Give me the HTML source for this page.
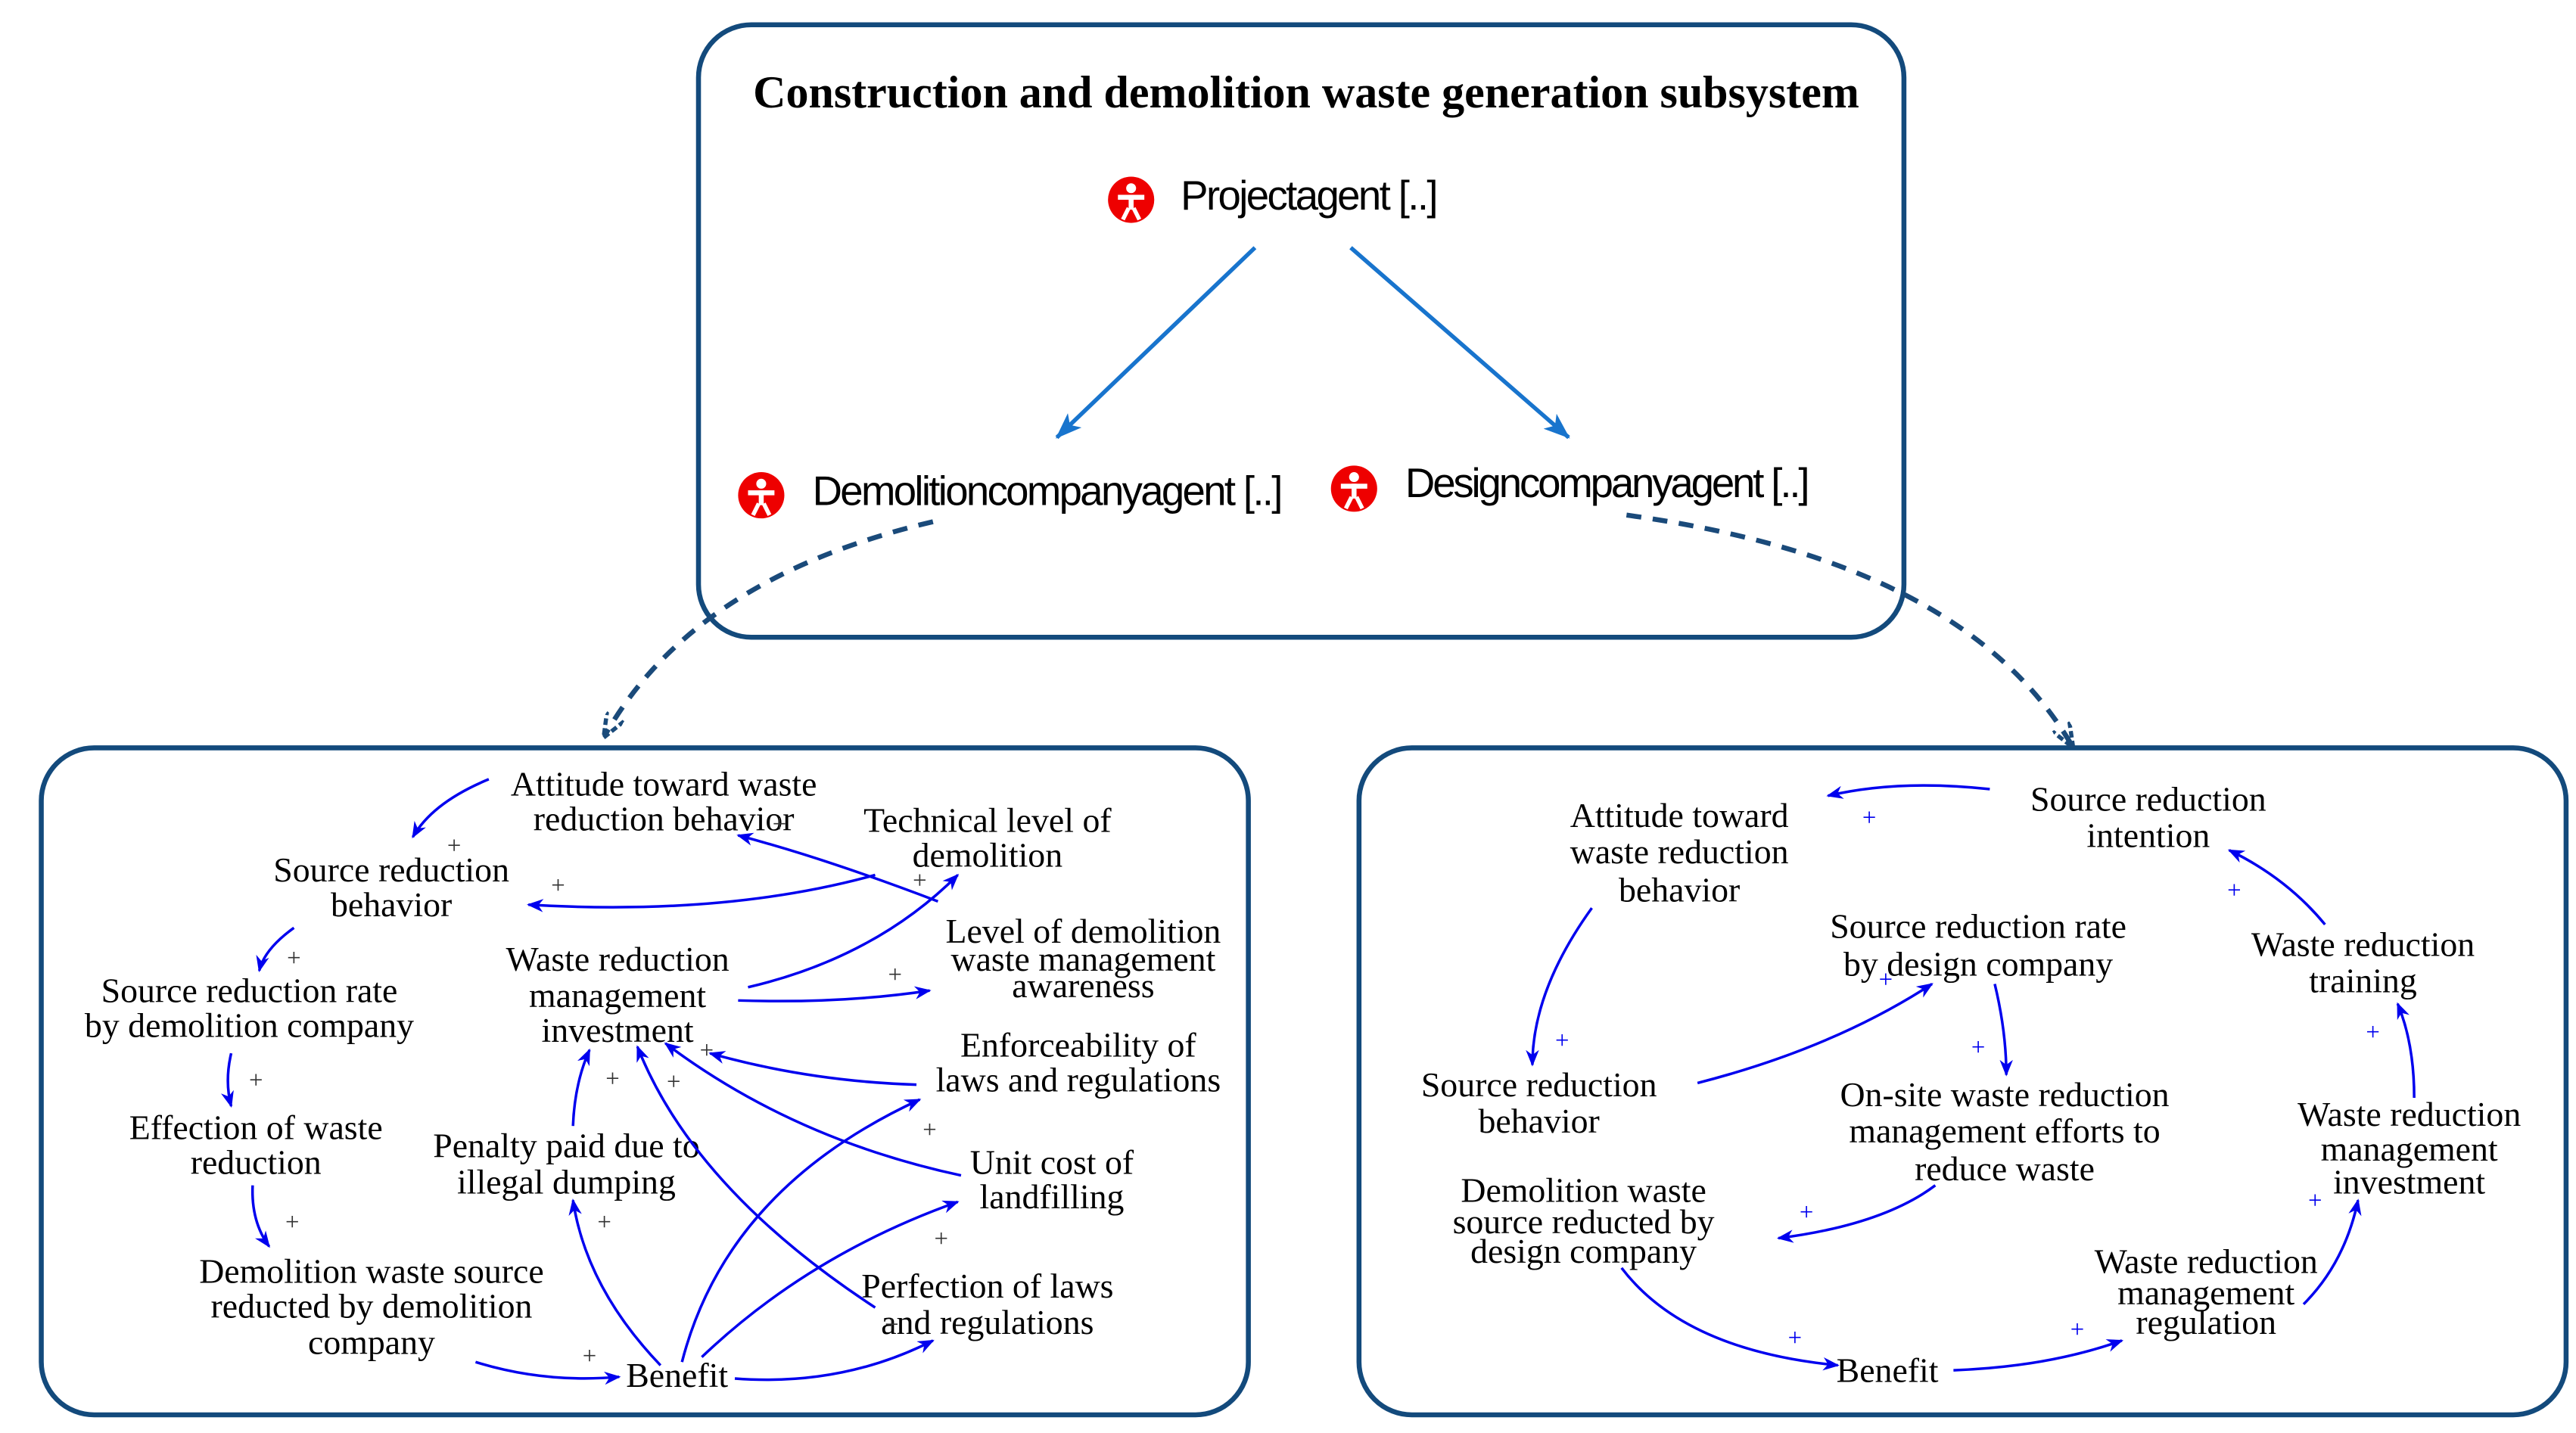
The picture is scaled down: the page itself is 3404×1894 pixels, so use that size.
<!DOCTYPE html>
<html><head><meta charset="utf-8"><style>
html,body{margin:0;padding:0;background:#fff;}
svg{display:block;}
.t{font-family:"Liberation Serif",serif;font-size:21px;fill:#000;text-anchor:middle;}
.a{fill:none;stroke:#0000ee;stroke-width:1.6;marker-end:url(#ah);}
.s{font-family:"Liberation Serif",serif;font-size:15px;fill:#333;text-anchor:middle;}
.sb{font-family:"Liberation Serif",serif;font-size:15px;fill:#0000ee;text-anchor:middle;}
.ag{font-family:"Liberation Sans Narrow","Liberation Sans",sans-serif;font-size:25px;fill:#000;}
</style></head><body>
<svg width="3404" height="1894" viewBox="0 0 1560 868" preserveAspectRatio="none" xmlns="http://www.w3.org/2000/svg">
<defs>
<marker id="ah" markerWidth="10" markerHeight="8" refX="9" refY="4" orient="auto" markerUnits="userSpaceOnUse"><path d="M0,0 L10,4 L0,8 L3,4 Z" fill="#0000ee"/></marker>
<marker id="ab" markerWidth="16" markerHeight="12" refX="15" refY="6" orient="auto" markerUnits="userSpaceOnUse"><path d="M0,0 L16,6 L0,12 L4,6 Z" fill="#1874cd"/></marker>
<marker id="ad" markerWidth="16" markerHeight="12" refX="14" refY="6" orient="auto" markerUnits="userSpaceOnUse"><path d="M0,0 L15,6 L0,12" fill="none" stroke="#1a4a7a" stroke-width="2.5" stroke-dasharray="4 2"/></marker>
<g id="icon"><circle cx="0" cy="0" r="14" fill="#e00"/><circle cx="0" cy="-7" r="3" fill="#fff"/><rect x="-8" y="-3" width="16" height="3" fill="#fff"/><rect x="-1.5" y="-3" width="3" height="9" fill="#fff"/><path d="M-1.5,5 L-5,12 M1.5,5 L5,12" stroke="#fff" stroke-width="2.5"/></g>
</defs>
<g fill="none" stroke="#134a7c" stroke-width="3">
<rect x="423" y="15" width="730" height="371" rx="32"/>
<rect x="25" y="453" width="731" height="404" rx="32"/>
<rect x="823" y="453" width="731" height="404" rx="32"/>
</g>
<text x="791" y="65" style="font-family:'Liberation Serif',serif;font-size:27.5px;font-weight:bold;text-anchor:middle">Construction and demolition waste generation subsystem</text>
<use href="#icon" x="685" y="121"/>
<text class="ag" x="715" y="127" textLength="156">Projectagent [..]</text>
<use href="#icon" x="461" y="300"/>
<text class="ag" x="492" y="306" textLength="285">Demolitioncompanyagent [..]</text>
<use href="#icon" x="820" y="296"/>
<text class="ag" x="851" y="301" textLength="245">Designcompanyagent [..]</text>
<path d="M760,150 L640,265" stroke="#1874cd" stroke-width="2.5" marker-end="url(#ab)"/>
<path d="M818,150 L950,265" stroke="#1874cd" stroke-width="2.5" marker-end="url(#ab)"/>
<g fill="none" stroke="#1a4a7a" stroke-width="3" stroke-dasharray="9 7">
<path d="M565,316 Q420,350 366,446" marker-end="url(#ad)"/>
<path d="M985,312 Q1190,340 1255,452" marker-end="url(#ad)"/>
</g>
<text class="t" x="402" y="482">Attitude toward waste</text><text class="t" x="402" y="503">reduction behavior</text>
<text class="t" x="598" y="504">Technical level of</text><text class="t" x="598" y="525">demolition</text>
<text class="t" x="237" y="534">Source reduction</text><text class="t" x="237" y="555">behavior</text>
<text class="t" x="656" y="571">Level of demolition</text><text class="t" x="656" y="588">waste management</text><text class="t" x="656" y="604">awareness</text>
<text class="t" x="374" y="588">Waste reduction</text><text class="t" x="374" y="610">management</text><text class="t" x="374" y="631">investment</text>
<text class="t" x="151" y="607">Source reduction rate</text><text class="t" x="151" y="628">by demolition company</text>
<text class="t" x="653" y="640">Enforceability of</text><text class="t" x="653" y="661">laws and regulations</text>
<text class="t" x="155" y="690">Effection of waste</text><text class="t" x="155" y="711">reduction</text>
<text class="t" x="343" y="701">Penalty paid due to</text><text class="t" x="343" y="723">illegal dumping</text>
<text class="t" x="637" y="711">Unit cost of</text><text class="t" x="637" y="732">landfilling</text>
<text class="t" x="225" y="777">Demolition waste source</text><text class="t" x="225" y="798">reducted by demolition</text><text class="t" x="225" y="820">company</text>
<text class="t" x="598" y="786">Perfection of laws</text><text class="t" x="598" y="808">and regulations</text>
<text class="t" x="410" y="840">Benefit</text>
<path class="a" d="M296,472 Q262,486 250,507"/>
<path class="a" d="M530,530 Q440,555 320,548"/>
<path class="a" d="M568,546 Q500,520 447,506"/>
<path class="a" d="M453,598 Q530,580 580,530"/>
<path class="a" d="M447,606 Q510,608 563,600"/>
<path class="a" d="M178,562 Q160,575 157,588"/>
<path class="a" d="M140,638 Q136,655 140,670"/>
<path class="a" d="M153,718 Q152,740 163,755"/>
<path class="a" d="M288,825 Q330,838 375,834"/>
<path class="a" d="M400,827 Q355,780 347,727"/>
<path class="a" d="M347,682 Q348,656 357,636"/>
<path class="a" d="M413,825 Q440,720 557,666"/>
<path class="a" d="M425,822 Q490,760 580,728"/>
<path class="a" d="M445,835 Q510,840 565,812"/>
<path class="a" d="M555,657 Q490,655 430,638"/>
<path class="a" d="M582,712 Q480,690 403,632"/>
<path class="a" d="M530,792 Q420,720 386,634"/>
<g class="s"><text x="275" y="517">+</text><text x="338" y="541">+</text><text x="472" y="504">+</text><text x="557" y="538">+</text><text x="542" y="595">+</text><text x="178" y="585">+</text><text x="155" y="659">+</text><text x="177" y="745">+</text><text x="357" y="826">+</text><text x="366" y="745">+</text><text x="371" y="658">+</text><text x="428" y="641">+</text><text x="408" y="660">+</text><text x="563" y="689">+</text><text x="570" y="755">+</text><text x="540" y="807">+</text></g>
<text class="t" x="1301" y="491">Source reduction</text><text class="t" x="1301" y="513">intention</text>
<text class="t" x="1017" y="501">Attitude toward</text><text class="t" x="1017" y="523">waste reduction</text><text class="t" x="1017" y="546">behavior</text>
<text class="t" x="1198" y="568">Source reduction rate</text><text class="t" x="1198" y="591">by design company</text>
<text class="t" x="1431" y="579">Waste reduction</text><text class="t" x="1431" y="601">training</text>
<text class="t" x="932" y="664">Source reduction</text><text class="t" x="932" y="686">behavior</text>
<text class="t" x="1214" y="670">On-site waste reduction</text><text class="t" x="1214" y="692">management efforts to</text><text class="t" x="1214" y="715">reduce waste</text>
<text class="t" x="1459" y="682">Waste reduction</text><text class="t" x="1459" y="703">management</text><text class="t" x="1459" y="723">investment</text>
<text class="t" x="959" y="728">Demolition waste</text><text class="t" x="959" y="747">source reducted by</text><text class="t" x="959" y="765">design company</text>
<text class="t" x="1336" y="771">Waste reduction</text><text class="t" x="1336" y="790">management</text><text class="t" x="1336" y="808">regulation</text>
<text class="t" x="1143" y="837">Benefit</text>
<path class="a" d="M1205,478 Q1150,472 1107,482"/>
<path class="a" d="M964,550 Q928,600 928,645"/>
<path class="a" d="M1028,656 Q1110,635 1170,596"/>
<path class="a" d="M1208,596 Q1215,625 1215,651"/>
<path class="a" d="M1172,718 Q1140,742 1077,750"/>
<path class="a" d="M982,768 Q1020,818 1113,827"/>
<path class="a" d="M1183,830 Q1240,828 1285,812"/>
<path class="a" d="M1395,790 Q1420,765 1428,727"/>
<path class="a" d="M1462,665 Q1462,632 1452,608"/>
<path class="a" d="M1408,560 Q1385,532 1350,515"/>
<g class="sb"><text x="1132" y="500">+</text><text x="946" y="635">+</text><text x="1142" y="598">+</text><text x="1198" y="639">+</text><text x="1094" y="739">+</text><text x="1087" y="815">+</text><text x="1258" y="810">+</text><text x="1402" y="732">+</text><text x="1437" y="630">+</text><text x="1353" y="544">+</text></g>
</svg>
</body></html>
